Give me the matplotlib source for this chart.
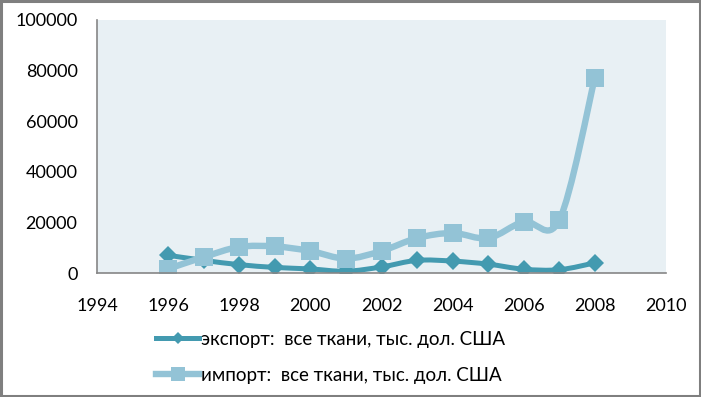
import matplotlib

matplotlib.use("Agg")
import matplotlib.pyplot as plt
import numpy as np
from matplotlib.lines import Line2D
from matplotlib.patches import PathPatch, Rectangle
from matplotlib.path import Path

plt.rcParams["font.family"] = ["Lato", "DejaVu Sans"]

years = [1996, 1997, 1998, 1999, 2000, 2001, 2002, 2003, 2004, 2005, 2006, 2007, 2008]
export_vals = [7000, 5000, 3300, 2200, 1600, 700, 2400, 5000, 4700, 3500, 1500, 1300, 4000]
import_vals = [1600, 6300, 10300, 10500, 8700, 5700, 8700, 13800, 15800, 13800, 20300, 20900, 77200]
export_label = "экспорт:  все ткани, тыс. дол. США"
import_label = "импорт:  все ткани, тыс. дол. США"

EXPORT_C = "#439AB0"
IMPORT_C = "#93C3D6"
BG_C = "#E8F0F4"
AXIS_C = "#868686"


def smooth_path(xs, ys):
    # Excel-style smoothed line: cubic Bezier segments through every point
    pts = np.column_stack([xs, ys]).astype(float)
    verts = [pts[0]]
    codes = [Path.MOVETO]
    n = len(pts)
    for i in range(n - 1):
        p0 = pts[max(i - 1, 0)]
        p1 = pts[i]
        p2 = pts[i + 1]
        p3 = pts[min(i + 2, n - 1)]
        c1 = p1 + (p2 - p0) / 6.0
        c2 = p2 - (p3 - p1) / 6.0
        verts += [c1, c2, p2]
        codes += [Path.CURVE4] * 3
    return Path(verts, codes)


fig = plt.figure(figsize=(7.01, 3.97), dpi=100)
ax = fig.add_axes([97 / 701, 124 / 397, 569 / 701, 253 / 397])
ax.set_facecolor(BG_C)

series = [
    (export_vals, EXPORT_C, "D", 8.8, 3.6, export_label),
    (import_vals, IMPORT_C, "s", 13.0, 4.6, import_label),
]
handles = []
for vals, color, marker, ms, lw, label in series:
    patch = PathPatch(smooth_path(years, vals), facecolor="none", edgecolor=color,
                      lw=lw, capstyle="round", joinstyle="round")
    ax.add_patch(patch)
    ax.plot(years, vals, ls="none", marker=marker, ms=ms, color=color, mec=color, mew=0)
    handles.append(Line2D([], [], color=color, lw=lw, marker=marker, ms=ms * 0.75,
                          mew=0, label=label))

ax.set_xlim(1994, 2010)
ax.set_ylim(0, 100000)
ax.set_xticks(range(1994, 2011, 2))
ax.set_yticks(range(0, 100001, 20000))
ax.tick_params(length=0, labelsize=13, colors="black")
ax.tick_params(axis="y", pad=14)
ax.tick_params(axis="x", pad=18)
for side in ("top", "right"):
    ax.spines[side].set_visible(False)
for side in ("left", "bottom"):
    ax.spines[side].set_color(AXIS_C)
    ax.spines[side].set_linewidth(1.2)

fig.legend(handles=handles, loc="upper left", bbox_to_anchor=(156 / 701, 1 - 331 / 397),
           frameon=False, fontsize=13.5, handlelength=2.3, handletextpad=0.1,
           labelspacing=1.0, borderaxespad=0, borderpad=0)

fig.add_artist(Rectangle((0.0015, 0.0025), 0.997, 0.995, transform=fig.transFigure,
                         fill=False, edgecolor="#7F7F7F", lw=2.2))

fig.savefig("out.png", dpi=100)
